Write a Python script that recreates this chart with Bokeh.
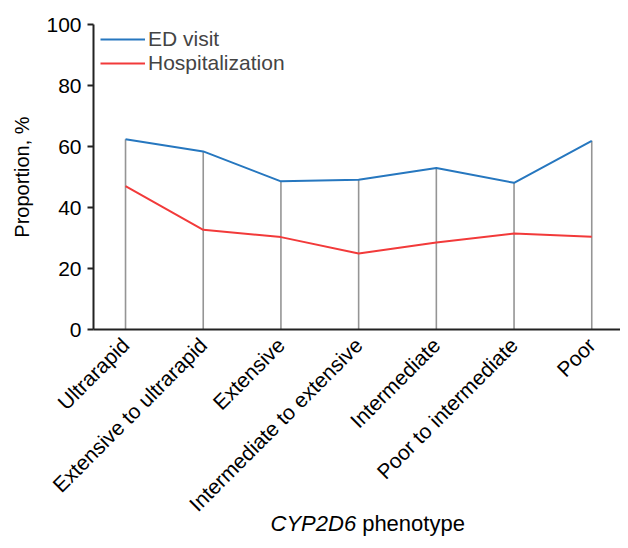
import math
from bokeh.plotting import figure
from bokeh.models import Range1d, FixedTicker, Label, Legend, LegendItem, LinearAxis
from bokeh.embed import file_html
from bokeh.resources import INLINE

categories = ["Ultrarapid", "Extensive to ultrarapid", "Extensive",
              "Intermediate to extensive", "Intermediate", "Poor to intermediate", "Poor"]
ed_visit = [62.4, 58.4, 48.6, 49.1, 53.0, 48.1, 61.9]
hospitalization = [47.0, 32.7, 30.3, 24.9, 28.5, 31.5, 30.4]
y_ticks = [0, 20, 40, 60, 80, 100]

FONT = "Liberation Sans"
xs = list(range(len(categories)))

X0 = -0.412   # data x where the y axis sits
X1 = 6.37
p = figure(width=620, height=540, output_backend="svg", toolbar_location=None,
           x_range=Range1d(-1.609, X1), y_range=Range1d(-69.2, 107.9),
           x_axis_location=None, y_axis_location=None,
           min_border_left=0, min_border_right=0, min_border_top=0, min_border_bottom=0)
p.outline_line_color = None
p.grid.visible = False
p.background_fill_color = "white"

# drop lines
p.segment(x0=xs, y0=[0] * len(xs), x1=xs, y1=ed_visit, line_color="#959595", line_width=1.6)

r_ed = p.line(xs, ed_visit, line_color="#2677bf", line_width=2)
r_h = p.line(xs, hospitalization, line_color="#f23a3a", line_width=2)

legend = Legend(items=[LegendItem(label="ED visit", renderers=[r_ed]),
                       LegendItem(label="Hospitalization", renderers=[r_h])],
                location=(100, 465), margin=0, padding=0, spacing=0,
                glyph_width=45, glyph_height=24, label_height=24, label_standoff=3,
                label_text_font=FONT, label_text_font_size="21px",
                border_line_color=None, background_fill_alpha=0)
p.add_layout(legend)

# x axis drawn at y = 0
xaxis = LinearAxis(fixed_location=0, bounds=(X0, X1))
xaxis.ticker = FixedTicker(ticks=xs)
xaxis.major_label_overrides = {i: c for i, c in enumerate(categories)}
xaxis.major_label_orientation = math.pi / 4
xaxis.major_tick_line_color = None
xaxis.minor_tick_line_color = None
xaxis.axis_line_color = "#222222"
xaxis.axis_line_width = 2
xaxis.major_label_text_font = FONT
xaxis.major_label_text_font_size = "21px"
xaxis.major_label_text_color = "black"
xaxis.major_label_standoff = 6
p.add_layout(xaxis, "below")

# y axis drawn at the left edge of the data area
yaxis = LinearAxis(fixed_location=X0, bounds=(0, 100))
yaxis.ticker = FixedTicker(ticks=y_ticks)
yaxis.minor_tick_line_color = None
yaxis.major_tick_out = 6
yaxis.major_tick_in = 0
yaxis.major_tick_line_width = 2
yaxis.major_tick_line_color = "#222222"
yaxis.axis_line_color = "#222222"
yaxis.axis_line_width = 2
yaxis.major_label_text_font = FONT
yaxis.major_label_text_font_size = "21px"
yaxis.major_label_text_color = "black"
yaxis.major_label_standoff = 6
p.add_layout(yaxis, "left")

# axis titles
p.add_layout(Label(x=-1.326, y=50, text="Proportion, %", angle=math.pi / 2,
                   text_font=FONT, text_font_size="20px", text_color="black",
                   text_baseline="middle", text_align="center"))
p.add_layout(Label(x=2.968, y=-63.6, text="CYP2D6",
                   text_font=FONT, text_font_size="22px", text_font_style="italic",
                   text_color="black", text_baseline="middle", text_align="right"))
p.add_layout(Label(x=2.968, y=-63.6, x_offset=6, text="phenotype",
                   text_font=FONT, text_font_size="22px", text_color="black",
                   text_baseline="middle", text_align="left"))

open("out.html", "w").write(file_html(p, INLINE))
